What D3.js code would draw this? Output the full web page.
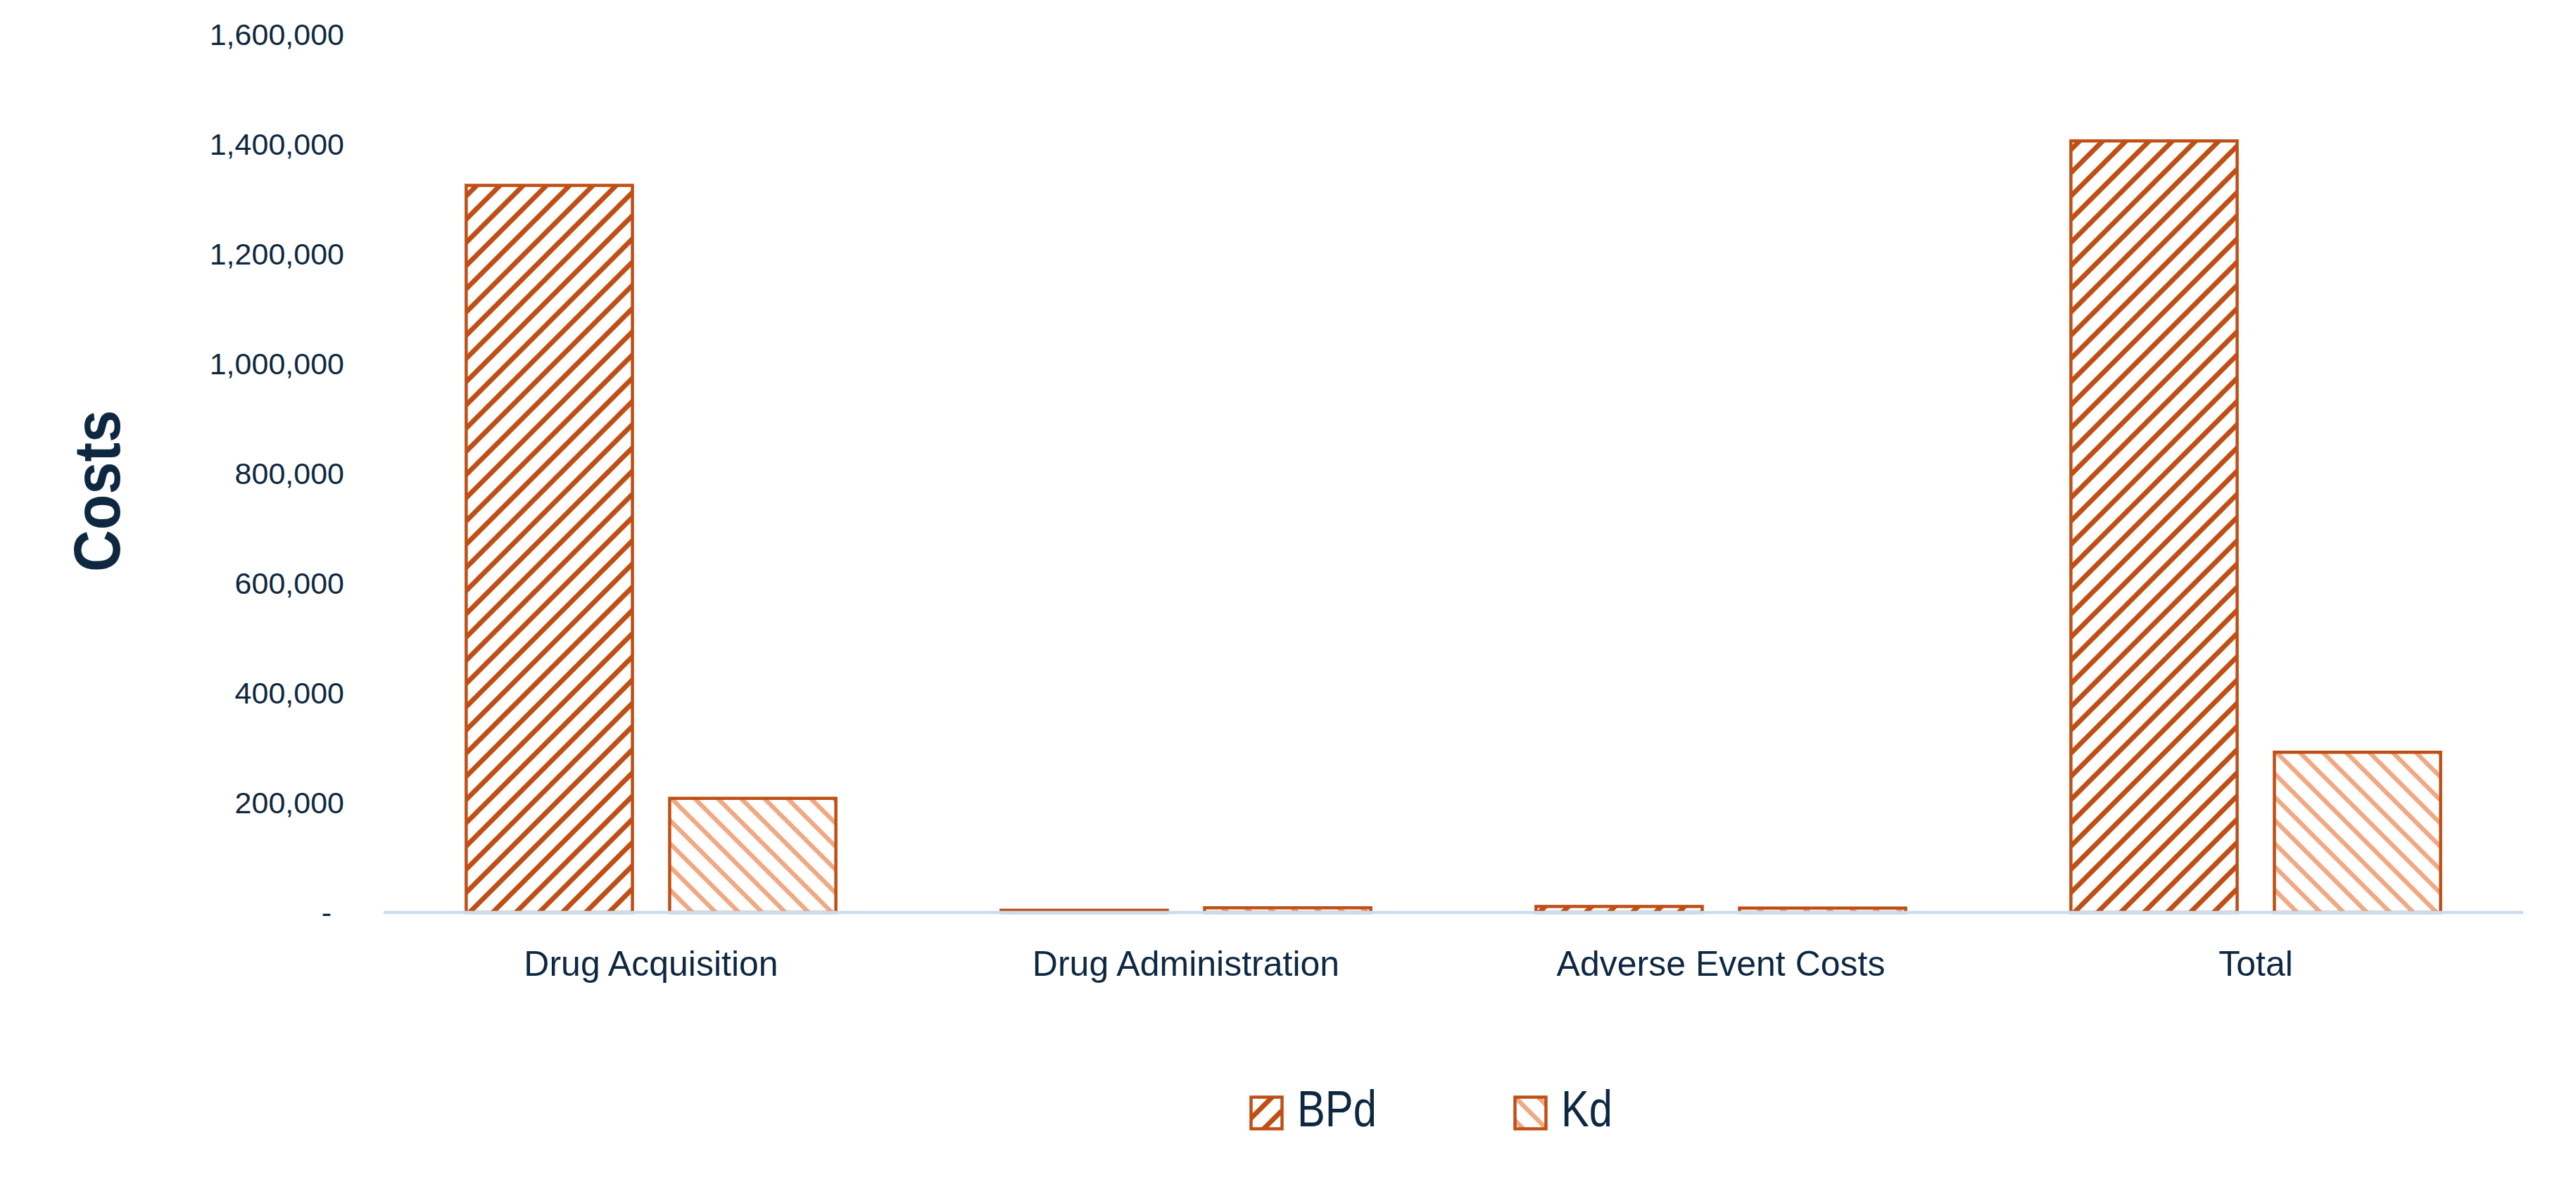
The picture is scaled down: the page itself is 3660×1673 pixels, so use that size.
<!DOCTYPE html>
<html>
<head>
<meta charset="utf-8">
<script src="https://cdn.jsdelivr.net/npm/d3@7"></script>
<style>
  body { margin: 0; background: #fff; }
  svg { display: block; }
  .tick text { font-family: "Liberation Sans", Arial, sans-serif; }
</style>
</head>
<body>
<svg id="chart" width="3660" height="1673"></svg>
<script>
// values
var categories = ["Drug Acquisition", "Drug Administration", "Adverse Event Costs", "Total"],
  series = ["BPd", "Kd"],
  bpd = [1325000, 4000, 11000, 1406000],
  kd = [208000, 8500, 8000, 292000],
  yTicks = [0, 200000, 400000, 600000, 800000, 1000000, 1200000, 1400000, 1600000];

var navy = "#0e2841",
  dark = "#c04f15",
  light = "#f1a983",
  axisBlue = "#c9dcf0";

// plot box (window.top is taken, so prefixed names)
var plotL = 545, plotR = 3585,
  plotT = 49, plotB = 1297;

var svg = d3.select("#chart");

var x0 = d3.scaleBand()
  .domain(categories)
  .range([plotL, plotR]);

var x1 = d3.scaleBand()
  .domain(series)
  .range([0, x0.bandwidth()])
  .paddingInner(0.183)
  .paddingOuter(0.406);

var y = d3.scaleLinear()
  .domain([0, 1600000])
  .range([plotB, plotT]);

// hatch fills: wide upward / downward diagonals
var defs = svg.append("defs");

var hatch = function(id, d, color, width){
  var p = defs.append("pattern")
    .attr("id", id)
    .attr("patternUnits", "userSpaceOnUse")
    .attr("width", 33)
    .attr("height", 33);
  p.append("rect").attr("width", 33).attr("height", 33).attr("fill", "#fff");
  p.append("path")
    .attr("d", d)
    .attr("stroke", color)
    .attr("stroke-width", width)
    .attr("fill", "none");
};

hatch("hatch-BPd", "M-8,8 L8,-8 M0,33 L33,0 M25,41 L41,25", dark, 7);
hatch("hatch-Kd", "M-8,25 L8,41 M0,0 L33,33 M25,-8 L41,8", light, 6.3);

// y axis, no line, no ticks
var fmt = d3.format(",");
var yAxis = svg.append("g")
  .attr("transform", "translate(489,0)")
  .call(d3.axisLeft(y)
    .tickValues(yTicks)
    .tickSize(0)
    .tickPadding(0)
    .tickFormat(function(d){ return d === 0 ? "-" : fmt(d); }));

yAxis.select(".domain").remove();
yAxis.selectAll("text")
  .attr("fill", navy)
  .attr("font-size", 43)
  .attr("dy", "0.34em")
  .attr("dx", function(d){ return d === 0 ? -18 : 0; });

// bars
var rows = categories.map(function(c, i){
  return [{cat: c, key: "BPd", value: bpd[i]}, {cat: c, key: "Kd", value: kd[i]}];
});

svg.append("g")
  .selectAll("g")
  .data(rows)
  .join("g")
    .attr("transform", function(d){ return "translate(" + x0(d[0].cat) + ",0)"; })
  .selectAll("rect")
  .data(function(d){ return d; })
  .join("rect")
    .attr("x", function(d){ return x1(d.key); })
    .attr("y", function(d){ return y(d.value); })
    .attr("width", x1.bandwidth())
    .attr("height", function(d){ return y(0) - y(d.value); })
    .attr("fill", function(d){ return "url(#hatch-" + d.key + ")"; })
    .attr("stroke", dark)
    .attr("stroke-width", 4.5);

// category axis: just the light blue base line
svg.append("line")
  .attr("x1", plotL)
  .attr("x2", plotR)
  .attr("y1", y(0))
  .attr("y2", y(0))
  .attr("stroke", axisBlue)
  .attr("stroke-width", 4.5);

svg.append("g")
  .selectAll("text")
  .data(categories)
  .join("text")
    .attr("x", function(d){ return x0(d) + x0.bandwidth() / 2; })
    .attr("y", 1387)
    .attr("text-anchor", "middle")
    .attr("font-family", "'Liberation Sans', Arial, sans-serif")
    .attr("font-size", 50)
    .attr("fill", navy)
    .text(function(d){ return d; });

// axis title (source font is a bit narrower, so squeeze along the text)
svg.append("text")
  .attr("transform", "translate(170,698) rotate(-90) scale(0.9,1)")
  .attr("text-anchor", "middle")
  .attr("font-family", "'Liberation Sans', Arial, sans-serif")
  .attr("font-weight", "bold")
  .attr("font-size", 92)
  .attr("fill", navy)
  .text("Costs");

// legend
var legendX = [1776, 2151];
var legend = svg.append("g")
  .selectAll("g")
  .data(series)
  .join("g")
    .attr("transform", function(d, i){ return "translate(" + legendX[i] + ",1558)"; });

legend.append("rect")
  .attr("width", 44)
  .attr("height", 45)
  .attr("x", 1.5)
  .attr("y", 1.5)
  .attr("fill", function(d){ return "url(#hatch-" + d + ")"; })
  .attr("stroke", dark)
  .attr("stroke-width", 4.5);

legend.append("text")
  .attr("transform", "translate(67,43) scale(0.83,1)")
  .attr("font-family", "'Liberation Sans', Arial, sans-serif")
  .attr("font-size", 72)
  .attr("fill", navy)
  .text(function(d){ return d; });
</script>
</body>
</html>
